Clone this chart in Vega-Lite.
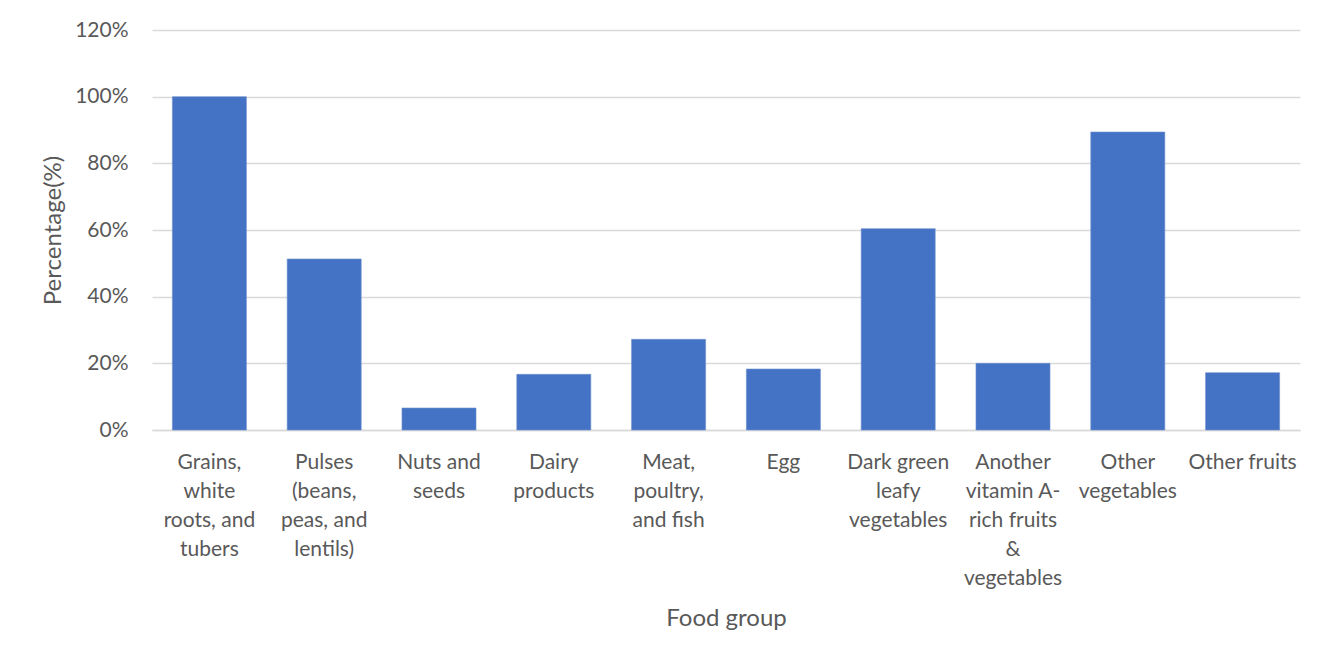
{
  "$schema": "https://vega.github.io/schema/vega-lite/v6.json",
  "autosize": "none",
  "width": 1148,
  "height": 400,
  "padding": {"left": 152, "top": 30, "right": 29, "bottom": 233},
  "background": "white",
  "config": {
    "view": {"stroke": null},
    "font": "Lato"
  },
  "data": {
    "values": [
      {"group": "Grains, white roots, and tubers", "pct": 100},
      {"group": "Pulses (beans, peas, and lentils)", "pct": 51.3},
      {"group": "Nuts and seeds", "pct": 6.6},
      {"group": "Dairy products", "pct": 16.7},
      {"group": "Meat, poultry, and fish", "pct": 27.2},
      {"group": "Egg", "pct": 18.3},
      {"group": "Dark green leafy vegetables", "pct": 60.4},
      {"group": "Another vitamin A-rich fruits & vegetables", "pct": 20.0},
      {"group": "Other vegetables", "pct": 89.4},
      {"group": "Other fruits", "pct": 17.2}
    ]
  },
  "mark": {"type": "bar", "color": "#4472c4", "stroke": "#6f91cf", "strokeWidth": 0.6},
  "encoding": {
    "x": {
      "field": "group",
      "type": "nominal",
      "sort": null,
      "scale": {"paddingInner": 0.355, "paddingOuter": 0.1775},
      "axis": {
        "title": "Food group",
        "titleFont": "Lato",
        "titleFontSize": 24,
        "titleFontWeight": "normal",
        "titleColor": "#595959",
        "titleY": 188,
        "titleBaseline": "middle",
        "labelAngle": 0,
        "labelFont": "Lato",
        "labelFontSize": 21,
        "labelColor": "#595959",
        "labelLineHeight": 29,
        "labelBaseline": "middle",
        "labelPadding": 32,
        "labelLimit": 0,
        "ticks": false,
        "domainColor": "#d9d9d9",
        "domainWidth": 1.5,
        "labelExpr": "({'Grains, white roots, and tubers': ['Grains,','white','roots, and','tubers'], 'Pulses (beans, peas, and lentils)': ['Pulses','(beans,','peas, and','lentils)'], 'Nuts and seeds': ['Nuts and','seeds'], 'Dairy products': ['Dairy','products'], 'Meat, poultry, and fish': ['Meat,','poultry,','and fish'], 'Egg': ['Egg'], 'Dark green leafy vegetables': ['Dark green','leafy','vegetables'], 'Another vitamin A-rich fruits & vegetables': ['Another','vitamin A-','rich fruits','&','vegetables'], 'Other vegetables': ['Other','vegetables'], 'Other fruits': ['Other fruits']})[datum.value]"
      }
    },
    "y": {
      "field": "pct",
      "type": "quantitative",
      "scale": {"domain": [0, 120], "nice": false},
      "axis": {
        "title": "Percentage(%)",
        "titleFont": "Lato",
        "titleFontSize": 24,
        "titleFontWeight": "normal",
        "titleColor": "#595959",
        "titleX": -99,
        "titleY": 200,
        "titleAngle": -90,
        "titleAlign": "center",
        "titleBaseline": "middle",
        "values": [0, 20, 40, 60, 80, 100, 120],
        "labelExpr": "datum.value + '%'",
        "labelFont": "Lato",
        "labelFontSize": 21,
        "labelColor": "#595959",
        "labelPadding": 24,
        "ticks": false,
        "domain": false,
        "grid": true,
        "gridColor": "#d9d9d9",
        "gridWidth": 1.5
      }
    }
  }
}
